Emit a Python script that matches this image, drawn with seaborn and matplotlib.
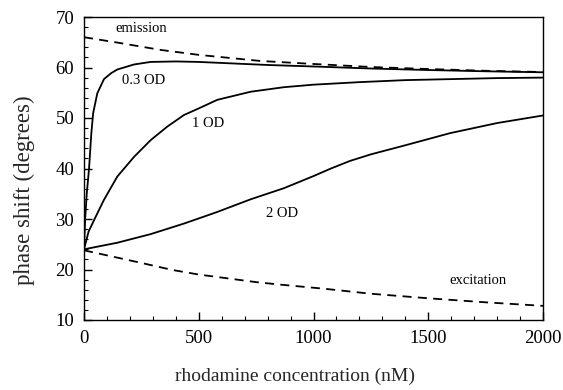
import numpy as np
import pandas as pd
import matplotlib
matplotlib.use("Agg")
import matplotlib.pyplot as plt
import seaborn as sns
from matplotlib.ticker import MultipleLocator

# ---- data ----
od03_x = [0, 5, 12, 22, 32, 40, 58, 87, 119, 145, 218, 290, 400, 500, 600, 800, 1000, 1250, 1500, 1750, 2000]
od03_y = [24, 30, 35, 40, 47, 51, 54.9, 57.7, 58.9, 59.6, 60.6, 61.1, 61.2, 61.1, 60.9, 60.5, 60.2, 59.8, 59.5, 59.25, 59.05]

od1_x = [0, 20, 44, 87, 145, 218, 290, 363, 436, 500, 581, 726, 871, 1000, 1200, 1400, 1600, 1800, 2000]
od1_y = [24, 27.5, 29.8, 33.8, 38.4, 42.3, 45.6, 48.3, 50.6, 51.9, 53.6, 55.2, 56.1, 56.6, 57.1, 57.5, 57.7, 57.9, 58.0]

od2_x = [0, 145, 290, 436, 581, 726, 871, 1000, 1076, 1159, 1250, 1400, 1595, 1800, 2000]
od2_y = [24, 25.3, 27.0, 29.1, 31.4, 33.9, 36.1, 38.5, 40.0, 41.5, 42.8, 44.6, 47.0, 49.0, 50.5]

emis_x = [0, 150, 331, 500, 767, 1000, 1250, 1500, 1750, 2000]
emis_y = [66, 64.9, 63.5, 62.5, 61.3, 60.7, 60.1, 59.7, 59.35, 59.1]

exc_x = [0, 250, 386, 500, 750, 856, 1045, 1250, 1500, 1750, 2000]
exc_y = [23.8, 21.3, 19.9, 19.0, 17.5, 17.0, 16.2, 15.2, 14.3, 13.5, 12.8]

labels = ["emission", "0.3 OD", "1 OD", "2 OD", "excitation"]
label_x = [251, 259, 541, 865, 1717]
label_y = [67.8, 57.5, 48.9, 31.0, 17.9]

x_ticks = [0, 500, 1000, 1500, 2000]
y_ticks = [10, 20, 30, 40, 50, 60, 70]

sns.set_theme(style="ticks")
plt.rcParams['font.family'] = ['Liberation Serif', 'DejaVu Serif']

fig = plt.figure(figsize=(5.63, 3.90), dpi=100)
ax = fig.add_axes([84/563, 1-320/390, (543-84)/563, (320-17)/390])

series = [
    (od03_x, od03_y, "-"),
    (od1_x, od1_y, "-"),
    (od2_x, od2_y, "-"),
    (emis_x, emis_y, (0, (5, 3.5))),
    (exc_x, exc_y, (0, (5, 3.5))),
]
for xs, ys, ls in series:
    df = pd.DataFrame({"x": xs, "y": ys})
    sns.lineplot(data=df, x="x", y="y", ax=ax, color="black", linewidth=1.3,
                 linestyle=ls, estimator=None, sort=False)

for t, lx, ly in zip(labels, label_x, label_y):
    ax.text(lx, ly, t, ha="center", va="center", fontsize=10.5, color="black")

ax.set_xlim(0, 2000)
ax.set_ylim(10, 70)
ax.set_xticks(x_ticks)
ax.set_yticks(y_ticks)
ax.xaxis.set_minor_locator(MultipleLocator(100))
ax.yaxis.set_minor_locator(MultipleLocator(2))
ax.tick_params(which="both", direction="in", top=False, right=False, colors="black")
ax.tick_params(which="major", length=6, width=1, labelsize=13.5, pad=7)
ax.tick_params(which="minor", length=3, width=0.8)
for s in ax.spines.values():
    s.set_linewidth(1.0)
    s.set_color("black")

ax.set_xlabel("rhodamine concentration (nM)", fontsize=14)
ax.set_ylabel("phase shift (degrees)", fontsize=16.5)
ax.xaxis.set_label_coords(0.46, -0.158)
ax.yaxis.set_label_coords(-0.107, 0.429)

fig.savefig("out.png", dpi=100, facecolor="white")
